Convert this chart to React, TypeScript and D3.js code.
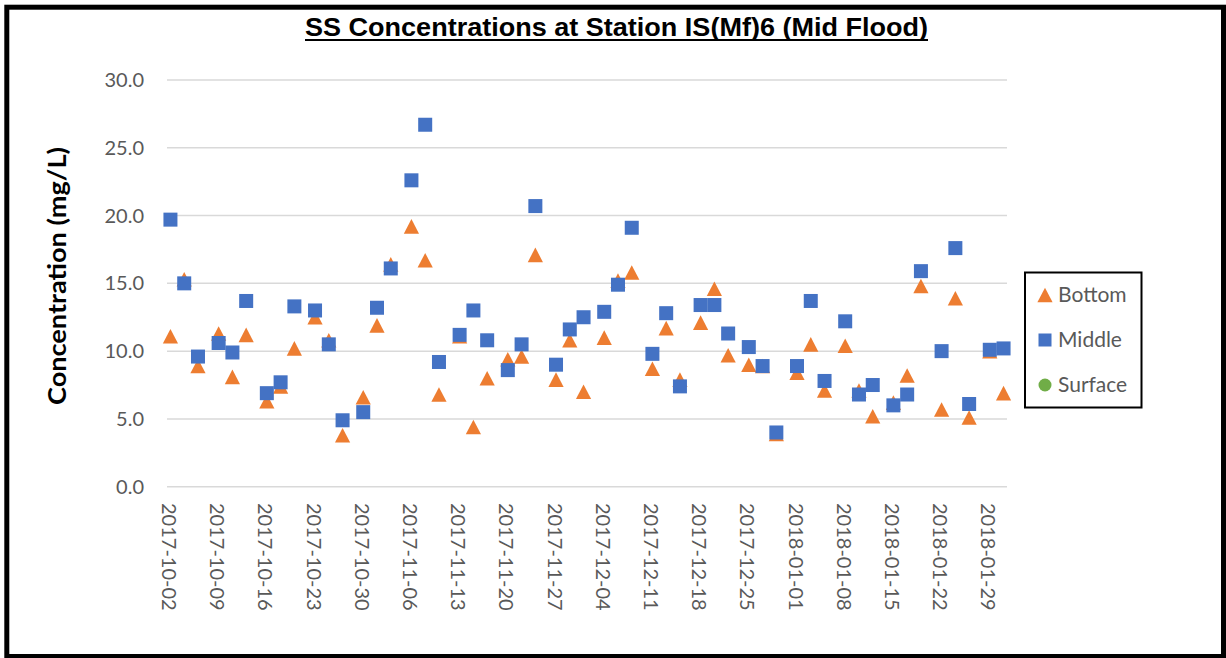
import React from 'react';
import * as d3 from 'd3';

// sampling dates (Mon / Wed / Fri)
const dates = [
  '2017-10-02', '2017-10-04', '2017-10-06', '2017-10-09', '2017-10-11', '2017-10-13',
  '2017-10-16', '2017-10-18', '2017-10-20', '2017-10-23', '2017-10-25', '2017-10-27',
  '2017-10-30', '2017-11-01', '2017-11-03', '2017-11-06', '2017-11-08', '2017-11-10',
  '2017-11-13', '2017-11-15', '2017-11-17', '2017-11-20', '2017-11-22', '2017-11-24',
  '2017-11-27', '2017-11-29', '2017-12-01', '2017-12-04', '2017-12-06', '2017-12-08',
  '2017-12-11', '2017-12-13', '2017-12-15', '2017-12-18', '2017-12-20', '2017-12-22',
  '2017-12-25', '2017-12-27', '2017-12-29', '2018-01-01', '2018-01-03', '2018-01-05',
  '2018-01-08', '2018-01-10', '2018-01-12', '2018-01-15', '2018-01-17', '2018-01-19',
  '2018-01-22', '2018-01-24', '2018-01-26', '2018-01-29', '2018-01-31',
];

const bottom = [
  11.1, 15.3, 8.9, 11.3, 8.1, 11.2, 6.3, 7.4, 10.2, 12.5, 10.8, 3.8,
  6.6, 11.9, 16.4, 19.2, 16.7, 6.8, 11.1, 4.4, 8.0, 9.4, 9.6, 17.1,
  7.9, 10.8, 7.0, 11.0, 15.2, 15.8, 8.7, 11.7, 7.9, 12.1, 14.6, 9.7,
  9.0, 8.9, 3.9, 8.4, 10.5, 7.1, 10.4, 7.1, 5.2, 6.2, 8.2, 14.8,
  5.7, 13.9, 5.1, 10.0, 6.9,
];

const middle = [
  19.7, 15.0, 9.6, 10.6, 9.9, 13.7, 6.9, 7.7, 13.3, 13.0, 10.5, 4.9,
  5.5, 13.2, 16.1, 22.6, 26.7, 9.2, 11.2, 13.0, 10.8, 8.6, 10.5, 20.7,
  9.0, 11.6, 12.5, 12.9, 14.9, 19.1, 9.8, 12.8, 7.4, 13.4, 13.4, 11.3,
  10.3, 8.9, 4.0, 8.9, 13.7, 7.8, 12.2, 6.8, 7.5, 6.0, 6.8, 15.9,
  10.0, 17.6, 6.1, 10.1, 10.2,
];

// no surface readings in this period
const surface: number[] = [];

const yTicks = [0, 5, 10, 15, 20, 25, 30];
const legendItems = ['Bottom', 'Middle', 'Surface'];

const ORANGE = '#ED7D31';
const BLUE = '#4472C4';
const GREEN = '#70AD47';
const GREY = '#595959';

const parse = d3.utcParse('%Y-%m-%d');
const fmt = d3.utcFormat('%Y-%m-%d');
const HALF_DAY = 12 * 3600 * 1000;

const triPath = 'M0,-7.3 L7.6,7.3 L-7.6,7.3 Z';

export default function App() {
  const W = 1226, H = 658;
  const left = 167, right = 1007, top = 80, plotBottom = 486.7;

  const x = d3.scaleUtc()
    .domain([parse('2017-10-02')!, parse('2018-02-01')!])
    .range([left, right]);
  const y = d3.scaleLinear().domain([0, 30]).range([plotBottom, top]);

  // weekly ticks on Mondays
  const mondays = d3.utcMonday.range(parse('2017-10-02')!, parse('2018-01-30')!);

  const px = (s: string) => x(new Date(parse(s)!.getTime() + HALF_DAY));

  const font = 'Lato, "Open Sans", sans-serif';

  return (
    <svg width={W} height={H} style={{ position: 'absolute', left: 0, top: 0, background: '#fff' }}>
      <rect x={6.8} y={7.2} width={1216.7} height={649.3} fill="#fff" stroke="#000" strokeWidth={5} />

      {/* title */}
      <text x={305} y={36} textLength={623} lengthAdjust="spacingAndGlyphs"
        fontFamily='"Liberation Sans", Arial, sans-serif'
        fontWeight="bold" fontSize={26} fill="#000">
        SS Concentrations at Station IS(Mf)6 (Mid Flood)
      </text>
      <line x1={305} x2={928} y1={40} y2={40} stroke="#000" strokeWidth={2} />

      {/* gridlines + y ticks */}
      {yTicks.map(t => (
        <g key={t}>
          <line x1={left} x2={right} y1={y(t)} y2={y(t)} stroke="#D9D9D9" strokeWidth={1.5} />
          <text x={144} y={y(t)} dy="0.35em" textAnchor="end" fontFamily={font} fontSize={20} fill={GREY}>
            {t.toFixed(1)}
          </text>
        </g>
      ))}

      {/* x tick labels */}
      {mondays.map(d => {
        const cx = x(new Date(d.getTime() + HALF_DAY)) - 1.5;
        return (
          <text key={fmt(d)} transform={`translate(${cx},503) rotate(90)`} dy="0.35em"
            fontFamily={font} fontSize={20} fill={GREY}>
            {fmt(d)}
          </text>
        );
      })}

      {/* y axis title */}
      <text transform="translate(57,276) rotate(-90)" textAnchor="middle" dy="0.35em"
        textLength={258} lengthAdjust="spacingAndGlyphs"
        fontFamily={font} fontWeight="bold" fontSize={25} fill="#000">
        Concentration (mg/L)
      </text>

      {/* series */}
      <g>
        {bottom.map((v, i) => (
          <path key={'b' + i} d={triPath} transform={`translate(${px(dates[i])},${y(v)})`} fill={ORANGE} />
        ))}
      </g>
      <g>
        {middle.map((v, i) => (
          <rect key={'m' + i} x={px(dates[i]) - 7} y={y(v) - 7} width={14} height={14} fill={BLUE} />
        ))}
      </g>
      <g>
        {surface.map((v, i) => (
          <circle key={'s' + i} cx={px(dates[i])} cy={y(v)} r={6.5} fill={GREEN} />
        ))}
      </g>

      {/* legend */}
      <rect x={1025} y={272.5} width={116.5} height={135} fill="#fff" stroke="#000" strokeWidth={2} />
      {legendItems.map((name, i) => {
        const cy = 295 + i * 45;
        return (
          <g key={name}>
            {i === 0 && <path d={triPath} transform={`translate(1045,${cy})`} fill={ORANGE} />}
            {i === 1 && <rect x={1038.5} y={cy - 6.5} width={13} height={13} fill={BLUE} />}
            {i === 2 && <circle cx={1045} cy={cy} r={6.5} fill={GREEN} />}
            <text x={1058} y={cy} dy="0.35em" fontFamily={font} fontSize={21} fill={GREY}>{name}</text>
          </g>
        );
      })}
    </svg>
  );
}
